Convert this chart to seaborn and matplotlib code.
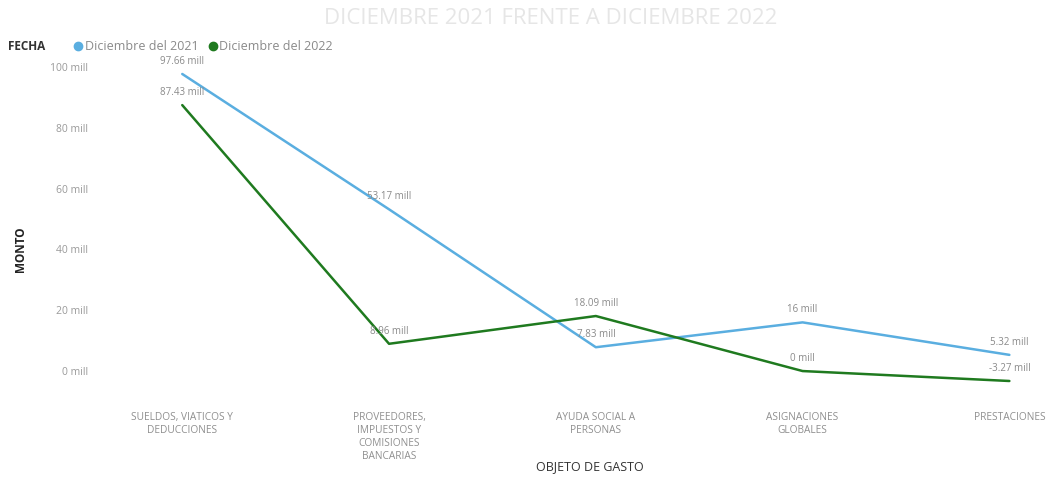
import matplotlib
matplotlib.use("Agg")
import matplotlib.pyplot as plt
import seaborn as sns
import pandas as pd
from matplotlib.lines import Line2D

# ---- data ----
categorias = [
    "SUELDOS, VIATICOS Y\nDEDUCCIONES",
    "PROVEEDORES,\nIMPUESTOS Y\nCOMISIONES\nBANCARIAS",
    "AYUDA SOCIAL A\nPERSONAS",
    "ASIGNACIONES\nGLOBALES",
    "PRESTACIONES",
]
serie_2021 = [97.66, 53.17, 7.83, 16.00, 5.32]
serie_2022 = [87.43, 8.96, 18.09, 0.00, -3.27]
nombres = ["Diciembre del 2021", "Diciembre del 2022"]
y_ticks = [0, 20, 40, 60, 80, 100]
y_tick_labels = ["0 mill", "20 mill", "40 mill", "60 mill", "80 mill", "100 mill"]
titulo = "DICIEMBRE 2021 FRENTE A DICIEMBRE 2022"

colores = {nombres[0]: "#5aaee0", nombres[1]: "#1f7a1f"}

df = pd.DataFrame({
    "pos": list(range(len(categorias))) * 2,
    "monto": serie_2021 + serie_2022,
    "fecha": [nombres[0]] * len(categorias) + [nombres[1]] * len(categorias),
})

sns.set_theme(style="white")
plt.rcParams["font.family"] = ["Open Sans", "DejaVu Sans"]

fig = plt.figure(figsize=(10.59, 4.79), dpi=100)
ax = fig.add_axes([0.094, 0.186, 0.906, 0.689])

sns.lineplot(data=df, x="pos", y="monto", hue="fecha", palette=colores,
             linewidth=1.8, ax=ax, legend=False)

# data labels
for vals, name in [(serie_2021, nombres[0]), (serie_2022, nombres[1])]:
    for i, v in enumerate(vals):
        txt = f"{v:.2f}".rstrip("0").rstrip(".") + " mill"
        ax.annotate(txt, (i, v), xytext=(0, 5), textcoords="offset points",
                    ha="center", va="bottom", fontsize=7, color="#8a8a8a")

ax.set_xlim(-0.40, 4.24)
ax.set_ylim(-6.2, 102.3)
ax.set_yticks(y_ticks)
ax.set_yticklabels(y_tick_labels, fontsize=7.5, color="#9a9a9a")
ax.set_xticks(range(len(categorias)))
ax.set_xticklabels(categorias, fontsize=7.3, color="#8f8f8f", linespacing=1.25)
ax.tick_params(axis="both", length=0)
ax.tick_params(axis="x", pad=16)
ax.tick_params(axis="y", pad=8)
for s in ax.spines.values():
    s.set_visible(False)
ax.grid(False)

ax.set_xlabel("")
ax.set_ylabel("")
fig.text(0.557, 0.027, "OBJETO DE GASTO", fontsize=9, color="#333333",
         ha="center", va="center")
fig.text(0.019, 0.48, "MONTO", rotation=90, fontsize=8.5, color="#222222",
         ha="center", va="center", fontweight="bold")

# title
fig.text(0.52, 0.962, titulo, fontsize=16, color="#e6e6e6", ha="center", va="center")

# legend
fig.text(0.008, 0.902, "FECHA", fontsize=8.5, color="#333333", fontweight="bold",
         ha="left", va="center")
handles = [Line2D([], [], marker="o", linestyle="", markersize=6,
                  color=colores[n]) for n in nombres]
fig.legend(handles, nombres, loc="center left", bbox_to_anchor=(0.068, 0.902),
           ncol=2, frameon=False, fontsize=9, handletextpad=0.05,
           columnspacing=0.6, handlelength=1.0, labelcolor="#8a8a8a",
           borderaxespad=0, borderpad=0)

fig.savefig("out.png", dpi=100)
